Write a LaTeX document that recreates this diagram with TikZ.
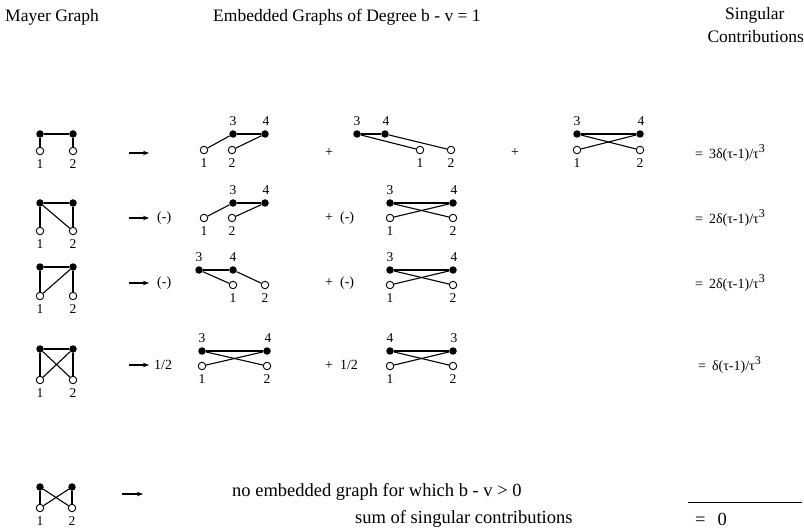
\documentclass[tikz,border=0pt]{standalone}
\usepackage{fontspec}
\setmainfont{Liberation Serif}
\usetikzlibrary{arrows.meta}
\newcommand{\tcube}{τ\raisebox{5.5pt}{\fontsize{12}{12}\selectfont 3}}
\tikzset{
 fn/.style={circle,fill=black,inner sep=0pt,minimum size=7.5pt},
 on/.style={circle,draw=black,fill=white,line width=0.9pt,inner sep=0pt,minimum size=7.5pt},
 lab/.style={inner sep=0pt,font=\fontsize{13.5}{13.5}\selectfont},
 sml/.style={inner sep=0pt,anchor=west,font=\fontsize{14}{14}\selectfont},
 hdr/.style={inner sep=0pt,anchor=west,font=\fontsize{17.5}{17.5}\selectfont},
 big/.style={inner sep=0pt,anchor=west,font=\fontsize{18.5}{18.5}\selectfont},
 ed/.style={line width=1.1pt},
 arr/.style={line width=1.1pt,-{Stealth[length=6pt,width=4.5pt]}},
}
\begin{document}
\begin{tikzpicture}[x=1pt,y=-1pt]
\useasboundingbox[fill=white] (0,0) rectangle (804,532);
% headers
\node[hdr] (h1) at (5,17) {Mayer Graph};
\node[hdr] (h2) at (213,17) {Embedded Graphs of Degree b - v = 1};
\node[hdr] (h3) at (725,15) {Singular};
\node[hdr,anchor=east] (h4) at (804,37) {Contributions};

% ---------- Row 1 ----------
\node[fn] (m1a) at (40,134) {}; \node[fn] (m1b) at (73,134) {};
\node[on] (m1c) at (40,151) {}; \node[on] (m1d) at (73,151) {};
\node[lab] (m1l1) at (40,164) {1}; \node[lab] (m1l2) at (73,164) {2};
\draw[ed] (m1a) -- (m1b); \draw[ed] (m1a) -- (m1c); \draw[ed] (m1b) -- (m1d);
\coordinate (a1s) at (129,153); \coordinate (a1e) at (149,153);
\draw[arr] (a1s) -- (a1e);
% G1
\node[fn] (r1a3) at (233,134) {}; \node[fn] (r1a4) at (265,134) {};
\node[on] (r1a1) at (204,150) {}; \node[on] (r1a2) at (232,150) {};
\node[lab] (r1a3l) at (233,121) {3}; \node[lab] (r1a4l) at (266,121) {4};
\node[lab] (r1a1l) at (204,163) {1}; \node[lab] (r1a2l) at (232,163) {2};
\draw[ed] (r1a1) -- (r1a3); \draw[ed] (r1a3) -- (r1a4); \draw[ed] (r1a2) -- (r1a4);
\node[sml] (r1p1) at (325,153) {+};
% G2
\node[fn] (r1b3) at (357,134) {}; \node[fn] (r1b4) at (385,134) {};
\node[on] (r1b1) at (420,150) {}; \node[on] (r1b2) at (451,150) {};
\node[lab] (r1b3l) at (357,121) {3}; \node[lab] (r1b4l) at (386,121) {4};
\node[lab] (r1b1l) at (420,163) {1}; \node[lab] (r1b2l) at (451,163) {2};
\draw[ed] (r1b3) -- (r1b4); \draw[ed] (r1b3) -- (r1b1); \draw[ed] (r1b4) -- (r1b2);
\node[sml] (r1p2) at (511,153) {+};
% G3
\node[fn] (r1c3) at (577,134) {}; \node[fn] (r1c4) at (640,134) {};
\node[on] (r1c1) at (577,150) {}; \node[on] (r1c2) at (640,150) {};
\node[lab] (r1c3l) at (577,121) {3}; \node[lab] (r1c4l) at (641,121) {4};
\node[lab] (r1c1l) at (577,163) {1}; \node[lab] (r1c2l) at (640,163) {2};
\draw[ed] (r1c3) -- (r1c4); \draw[ed] (r1c3) -- (r1c2); \draw[ed] (r1c4) -- (r1c1);
\node[sml] (r1f) at (695,153) {=\hspace{6pt}3δ(τ-1)/\tcube};

% ---------- Row 2 ----------
\node[fn] (m2a) at (40,203) {}; \node[fn] (m2b) at (73,203) {};
\node[on] (m2c) at (40,231) {}; \node[on] (m2d) at (73,231) {};
\node[lab] (m2l1) at (40,244) {1}; \node[lab] (m2l2) at (73,244) {2};
\draw[ed] (m2a) -- (m2b); \draw[ed] (m2a) -- (m2c); \draw[ed] (m2b) -- (m2d); \draw[ed] (m2a) -- (m2d);
\coordinate (a2s) at (129,218); \coordinate (a2e) at (149,218);
\draw[arr] (a2s) -- (a2e);
\node[sml] (r2m1) at (157,218) {(-)};
\node[fn] (r2a3) at (233,203) {}; \node[fn] (r2a4) at (265,203) {};
\node[on] (r2a1) at (204,218) {}; \node[on] (r2a2) at (232,218) {};
\node[lab] (r2a3l) at (233,190) {3}; \node[lab] (r2a4l) at (266,190) {4};
\node[lab] (r2a1l) at (204,231) {1}; \node[lab] (r2a2l) at (232,231) {2};
\draw[ed] (r2a1) -- (r2a3); \draw[ed] (r2a3) -- (r2a4); \draw[ed] (r2a2) -- (r2a4);
\node[sml] (r2p1) at (325,218) {+\hspace{7pt}(-)};
\node[fn] (r2b3) at (390,203) {}; \node[fn] (r2b4) at (453,203) {};
\node[on] (r2b1) at (390,218) {}; \node[on] (r2b2) at (453,218) {};
\node[lab] (r2b3l) at (390,190) {3}; \node[lab] (r2b4l) at (454,190) {4};
\node[lab] (r2b1l) at (390,231) {1}; \node[lab] (r2b2l) at (453,231) {2};
\draw[ed] (r2b3) -- (r2b4); \draw[ed] (r2b3) -- (r2b2); \draw[ed] (r2b4) -- (r2b1);
\node[sml] (r2f) at (695,218) {=\hspace{6pt}2δ(τ-1)/\tcube};

% ---------- Row 3 ----------
\node[fn] (m3a) at (40,267) {}; \node[fn] (m3b) at (73,267) {};
\node[on] (m3c) at (40,296) {}; \node[on] (m3d) at (73,296) {};
\node[lab] (m3l1) at (40,309) {1}; \node[lab] (m3l2) at (73,309) {2};
\draw[ed] (m3a) -- (m3b); \draw[ed] (m3a) -- (m3c); \draw[ed] (m3b) -- (m3d); \draw[ed] (m3b) -- (m3c);
\coordinate (a3s) at (129,283); \coordinate (a3e) at (149,283);
\draw[arr] (a3s) -- (a3e);
\node[sml] (r3m1) at (157,283) {(-)};
\node[fn] (r3a3) at (199,270) {}; \node[fn] (r3a4) at (233,270) {};
\node[on] (r3a1) at (233,285) {}; \node[on] (r3a2) at (265,285) {};
\node[lab] (r3a3l) at (199,257) {3}; \node[lab] (r3a4l) at (233,257) {4};
\node[lab] (r3a1l) at (233,298) {1}; \node[lab] (r3a2l) at (265,298) {2};
\draw[ed] (r3a3) -- (r3a4); \draw[ed] (r3a3) -- (r3a1); \draw[ed] (r3a4) -- (r3a2);
\node[sml] (r3p1) at (325,283) {+\hspace{7pt}(-)};
\node[fn] (r3b3) at (390,270) {}; \node[fn] (r3b4) at (453,270) {};
\node[on] (r3b1) at (390,285) {}; \node[on] (r3b2) at (453,285) {};
\node[lab] (r3b3l) at (390,257) {3}; \node[lab] (r3b4l) at (454,257) {4};
\node[lab] (r3b1l) at (390,298) {1}; \node[lab] (r3b2l) at (453,298) {2};
\draw[ed] (r3b3) -- (r3b4); \draw[ed] (r3b3) -- (r3b2); \draw[ed] (r3b4) -- (r3b1);
\node[sml] (r3f) at (695,283) {=\hspace{6pt}2δ(τ-1)/\tcube};

% ---------- Row 4 ----------
\node[fn] (m4a) at (40,349) {}; \node[fn] (m4b) at (73,349) {};
\node[on] (m4c) at (40,380) {}; \node[on] (m4d) at (73,380) {};
\node[lab] (m4l1) at (40,393) {1}; \node[lab] (m4l2) at (73,393) {2};
\draw[ed] (m4a) -- (m4b); \draw[ed] (m4a) -- (m4c); \draw[ed] (m4b) -- (m4d);
\draw[ed] (m4a) -- (m4d); \draw[ed] (m4b) -- (m4c);
\coordinate (a4s) at (129,365); \coordinate (a4e) at (149,365);
\draw[arr] (a4s) -- (a4e);
\node[sml] (r4m1) at (154,365) {1/2};
\node[fn] (r4a3) at (202,351) {}; \node[fn] (r4a4) at (267,351) {};
\node[on] (r4a1) at (202,366) {}; \node[on] (r4a2) at (267,366) {};
\node[lab] (r4a3l) at (202,338) {3}; \node[lab] (r4a4l) at (268,338) {4};
\node[lab] (r4a1l) at (202,379) {1}; \node[lab] (r4a2l) at (267,379) {2};
\draw[ed] (r4a3) -- (r4a4); \draw[ed] (r4a3) -- (r4a2); \draw[ed] (r4a4) -- (r4a1);
\node[sml] (r4p1) at (325,365) {+\hspace{7pt}1/2};
\node[fn] (r4b4) at (390,351) {}; \node[fn] (r4b3) at (453,351) {};
\node[on] (r4b1) at (390,366) {}; \node[on] (r4b2) at (453,366) {};
\node[lab] (r4b4l) at (390,338) {4}; \node[lab] (r4b3l) at (454,338) {3};
\node[lab] (r4b1l) at (390,379) {1}; \node[lab] (r4b2l) at (453,379) {2};
\draw[ed] (r4b4) -- (r4b3); \draw[ed] (r4b4) -- (r4b2); \draw[ed] (r4b3) -- (r4b1);
\node[sml] (r4f) at (698,365) {=\hspace{6pt}δ(τ-1)/\tcube};

% ---------- Row 5 ----------
\node[fn] (m5a) at (40,487) {}; \node[fn] (m5b) at (72,487) {};
\node[on] (m5c) at (40,508) {}; \node[on] (m5d) at (72,508) {};
\node[lab] (m5l1) at (40,521) {1}; \node[lab] (m5l2) at (72,521) {2};
\draw[ed] (m5a) -- (m5c); \draw[ed] (m5b) -- (m5d);
\draw[ed] (m5a) -- (m5d); \draw[ed] (m5b) -- (m5c);
\coordinate (a5s) at (122,494); \coordinate (a5e) at (143,494);
\draw[arr] (a5s) -- (a5e);
\node[big] (t5) at (232,492) {no embedded graph for which b - v > 0};
\coordinate (l5s) at (688,502); \coordinate (l5e) at (802,502);
\draw[line width=0.8pt] (l5s) -- (l5e);
\node[big] (t6) at (355,519) {sum of singular contributions};
\node[big] (t7) at (695,519) {=\hspace{12pt}0};
\end{tikzpicture}
\end{document}
